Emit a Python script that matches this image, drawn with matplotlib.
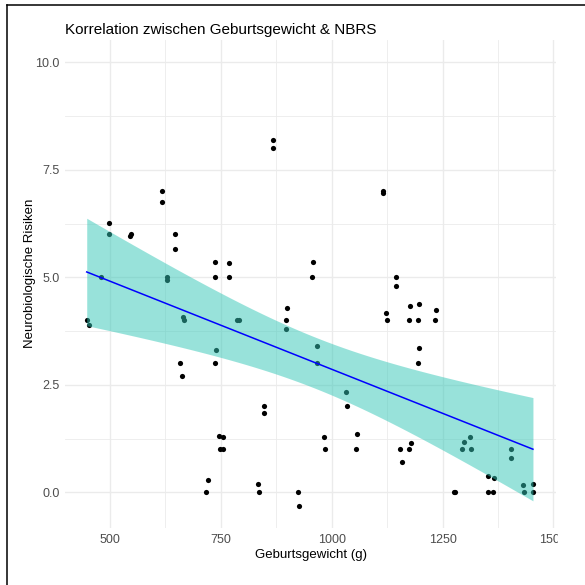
import numpy as np
import matplotlib
matplotlib.use('Agg')
import matplotlib.pyplot as plt
from matplotlib.lines import Line2D
from matplotlib.patches import Rectangle

plt.rcParams['font.family'] = ['Liberation Sans', 'DejaVu Sans']

# Geburtsgewicht (g) und Neurobiologische Risiken
gewicht = [447.5, 452, 479, 498, 498, 545, 547, 617, 617, 628, 628, 647, 647,
           657, 662, 665, 668, 717, 721, 737, 737, 737, 740, 745, 754, 747, 756,
           768, 768, 786, 790, 833, 837, 847, 847, 867, 867, 899, 896, 898,
           925, 927, 958, 956, 968, 966, 982, 985, 1032, 1035, 1058, 1055,
           1115, 1116, 1122, 1125, 1145, 1146, 1155, 1158, 1175, 1178, 1177,
           1174, 1198, 1195, 1197, 1195, 1235, 1234, 1275, 1279, 1295, 1298,
           1313, 1314, 1353, 1367, 1353, 1363, 1404, 1404, 1431, 1434, 1454, 1453]
risiken = [4.02, 3.90, 5.02, 6.27, 6.01, 5.97, 6.01, 7.02, 6.76, 5.02, 4.93, 6.01, 5.66,
           3.02, 2.71, 4.07, 4.01, 0.02, 0.28, 5.37, 5.02, 3.02, 3.31, 1.32, 1.30, 1.02, 1.02,
           5.33, 5.02, 4.02, 4.02, 0.20, 0.02, 2.02, 1.84, 8.20, 8.01, 4.30, 4.02, 3.80,
           0.02, -0.31, 5.37, 5.02, 3.40, 3.02, 1.30, 1.02, 2.34, 2.02, 1.36, 1.02,
           7.01, 6.97, 4.17, 4.01, 5.01, 4.80, 1.02, 0.72, 1.02, 1.15, 4.34,
           4.01, 4.38, 4.01, 3.36, 3.02, 4.24, 4.01, 0.01, 0.01, 1.02, 1.17,
           1.28, 1.02, 0.38, 0.34, 0.01, 0.01, 1.02, 0.79, 0.17, 0.01, 0.20, 0.01]

x_ticks = [500, 750, 1000, 1250, 1500]
y_ticks = [0.0, 2.5, 5.0, 7.5, 10.0]

x = np.array(gewicht)
y = np.array(risiken)
n = len(x)

# lineare Regression mit Konfidenzband (wie geom_smooth(method = "lm"))
b1, b0 = np.polyfit(x, y, 1)
xs = np.linspace(x.min(), x.max(), 100)
ys = b0 + b1 * xs
resid = y - (b0 + b1 * x)
s = np.sqrt(np.sum(resid ** 2) / (n - 2))
sxx = np.sum((x - x.mean()) ** 2)
t = 2.78
se = s * np.sqrt(1 / n + (xs - x.mean()) ** 2 / sxx)

fig = plt.figure(figsize=(5.85, 5.85), dpi=100)
ax = fig.add_axes([65 / 585, 57 / 585, 491 / 585, 488 / 585])

ax.scatter(x, y, s=14, color='black', zorder=3, linewidths=0)
ax.fill_between(xs, ys - t * se, ys + t * se, color='#33c7b7', alpha=0.5,
                linewidth=0, zorder=4)
ax.plot(xs, ys, color='blue', linewidth=1.1, zorder=5)

ax.set_xlim(398.5, 1506)
ax.set_ylim(-0.826, 10.52)
ax.set_xticks(x_ticks)
ax.set_xticklabels([str(v) for v in x_ticks])
ax.set_yticks(y_ticks)
ax.set_yticklabels(['%.1f' % v for v in y_ticks])
ax.set_xticks([625, 875, 1125, 1375], minor=True)
ax.set_yticks([1.25, 3.75, 6.25, 8.75], minor=True)
ax.grid(True, which='major', color='#ebebeb', linewidth=1.0)
ax.grid(True, which='minor', color='#ebebeb', linewidth=0.6)
ax.set_axisbelow(True)
ax.tick_params(which='both', length=0, labelsize=9, labelcolor='#4d4d4d', pad=4)
for sp in ax.spines.values():
    sp.set_visible(False)

fig.text(65 / 585, 1 - 30 / 585, 'Korrelation zwischen Geburtsgewicht & NBRS',
         fontsize=11, ha='left', va='center')
fig.text(311 / 585, 1 - 555 / 585, 'Geburtsgewicht (g)', fontsize=9.5,
         ha='center', va='center')
fig.text(30 / 585, 1 - 273 / 585, 'Neurobiologische Risiken', fontsize=9.5,
         ha='center', va='center', rotation=90)

# Bildausschnitt: rechter Rand abgeschnitten, Rahmen links und oben
fig.patches.append(Rectangle((558 / 585, 0), 27 / 585, 1 - 7 / 585,
                             transform=fig.transFigure, color='white', zorder=10))
fig.lines.append(Line2D([6.5 / 585, 6.5 / 585], [0, 1 - 4.7 / 585],
                        transform=fig.transFigure, color='black', linewidth=1.1))
fig.lines.append(Line2D([6.5 / 585, 1], [1 - 4.7 / 585, 1 - 4.7 / 585],
                        transform=fig.transFigure, color='black', linewidth=1.1))

fig.savefig('out.png', dpi=100, facecolor='white')
